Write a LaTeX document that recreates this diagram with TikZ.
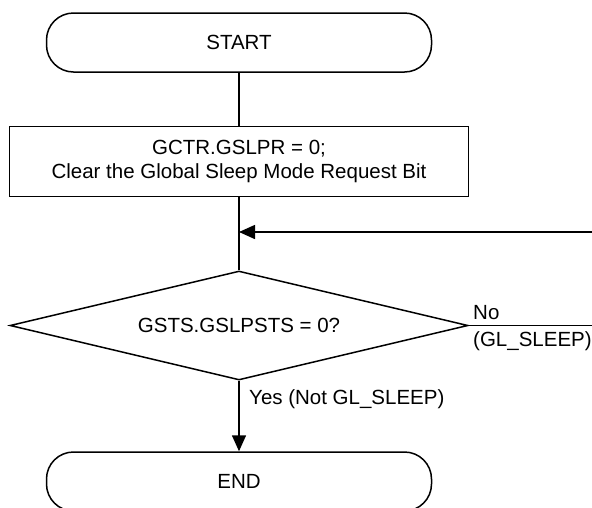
\documentclass[tikz,border=0pt]{standalone}
\usepackage{fontspec}
\setmainfont{Liberation Sans}
\usetikzlibrary{shapes.geometric,arrows.meta}
\begin{document}
\begin{tikzpicture}[x=1pt,y=-1pt,
  every node/.style={font=\fontsize{20.5pt}{24pt}\selectfont, inner sep=0pt},
  conn/.style={line width=1.5pt},
  arr/.style={conn,-{Triangle[length=16pt,width=14pt]}},
  term/.style={draw,line width=1.5pt,rounded corners=27pt,minimum width=385pt,minimum height=59pt},
  procbox/.style={draw,line width=1.5pt,minimum width=459pt,minimum height=70pt,align=center},
  decide/.style={draw,line width=1.5pt,diamond,aspect=4,minimum width=458pt,minimum height=109pt},
  lbl/.style={anchor=base west}]
\useasboundingbox (0,0) rectangle (592,507);
\clip (0,0) rectangle (592,507);
\node[term] (start) at (239,42.5) {START};
\node[procbox] (box) at (239,161.5) {GCTR.GSLPR = 0;\\Clear the Global Sleep Mode Request Bit};
\node[decide] (dec) at (239,325.5) {GSTS.GSLPSTS = 0?};
\node[term] (end) at (239,481.5) {END};
\coordinate (fb) at (239,232);
\coordinate (fbin) at (592,232);
\coordinate (noout) at (592,325.5);
\draw[conn] (start) -- (box);
\draw[conn] (box) -- (dec);
\draw[arr] (fbin) -- (fb);
\draw[conn] (dec.east) -- (noout);
\draw[arr] (dec.south) -- (end.north);
\node[lbl] (no) at (473,319) {No};
\node[lbl] (nosub) at (473,346) {(GL\_SLEEP)};
\node[lbl] (yes) at (249,404) {Yes (Not GL\_SLEEP)};
\end{tikzpicture}
\end{document}
